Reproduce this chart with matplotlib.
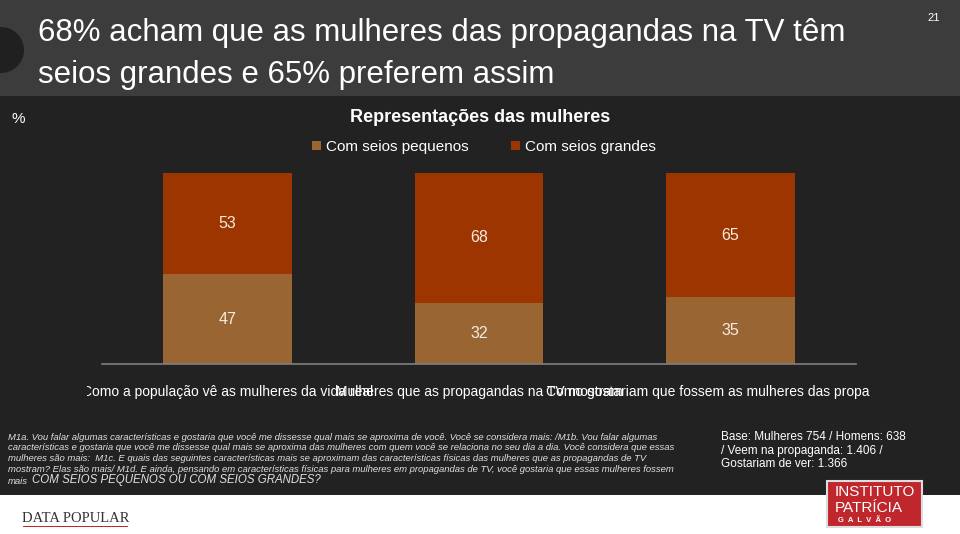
import matplotlib
matplotlib.use("Agg")
import matplotlib.pyplot as plt
from matplotlib.patches import Rectangle, Ellipse
from matplotlib.transforms import Bbox, TransformedBbox

# dados
categorias = ["Como a população vê as mulheres da vida real",
              "Mulheres que as propagandas na TV mostram",
              "Como gostariam que fossem as mulheres das propagandas"]
seios_pequenos = [47, 32, 35]
seios_grandes = [53, 68, 65]
series = ["Com seios pequenos", "Com seios grandes"]

cor_peq = "#996633"
cor_gra = "#9c3500"
fundo = "#222222"

W, H = 960, 534
fig = plt.figure(figsize=(9.6, 5.34), dpi=100)
fig.patch.set_facecolor(fundo)

def fx(x):
    return x / W

def fy(y):
    return 1 - y / H

# faixas de fundo
fig.patches.append(Rectangle((0, fy(96)), 1, 96 / H, transform=fig.transFigure,
                             facecolor="#3c3c3c", edgecolor="none", zorder=0))
fig.patches.append(Rectangle((0, 0), 1, (H - 495) / H, transform=fig.transFigure,
                             facecolor="white", edgecolor="none", zorder=0))
fig.patches.append(Ellipse((fx(1), fy(50)), 46 / W, 46 / H, transform=fig.transFigure,
                           facecolor="#202020", edgecolor="none", zorder=1))

# titulo do slide
fonte = "Liberation Sans"
fig.text(fx(38), fy(33), "68% acham que as mulheres das propagandas na TV têm",
         color="white", fontsize=22.5, family=fonte, va="center")
fig.text(fx(38), fy(75), "seios grandes e 65% preferem assim",
         color="white", fontsize=22.5, family=fonte, va="center")
fig.text(fx(940), fy(18), "21", color="white", fontsize=8, ha="right", va="center",
         family=fonte)

# titulo do grafico
fig.text(fx(480), fy(117), "Representações das mulheres", color="white", fontsize=13,
         fontweight="bold", ha="center", va="center", family=fonte)
fig.text(fx(18), fy(119), "%", color="white", fontsize=11, ha="center", va="center",
         family=fonte)

ax = fig.add_axes([fx(102), 170 / H, (856 - 102) / W, (364 - 173) / H])
ax.set_facecolor(fundo)
x = range(len(categorias))
b1 = ax.bar(x, seios_pequenos, width=0.513, color=cor_peq, label=series[0])
b2 = ax.bar(x, seios_grandes, width=0.513, bottom=seios_pequenos, color=cor_gra, label=series[1])

for i in x:
    ax.text(i, seios_pequenos[i] / 2, str(seios_pequenos[i]), ha="center", va="center",
            color="#f5ebe0", fontsize=11.5, family=fonte)
    ax.text(i, seios_pequenos[i] + seios_grandes[i] / 2, str(seios_grandes[i]), ha="center",
            va="center", color="#f5ebe0", fontsize=11.5, family=fonte)

ax.set_xlim(-0.5, 2.5)
ax.set_ylim(0, 100)
ax.set_yticks([])
ax.set_xticks(list(x))
ax.set_xticklabels(categorias, color="white", fontsize=10, family=fonte)
ax.tick_params(axis="x", length=0, pad=15)
for s in ["top", "right", "left"]:
    ax.spines[s].set_visible(False)
ax.spines["bottom"].set_color("#7f7f7f")
ax.spines["bottom"].set_linewidth(1.2)

# os rotulos sao cortados nas bordas, como no original
clip = TransformedBbox(Bbox([[fx(87), fy(400)], [fx(870), fy(375)]]), fig.transFigure)
for lbl in ax.get_xticklabels():
    lbl.set_clip_on(True)
    lbl.set_clip_box(clip)

fig.legend(handles=[b1, b2], labels=series, loc="center", bbox_to_anchor=(fx(484), fy(147)),
           ncol=2, frameon=False, labelcolor="white", handlelength=0.6,
           handleheight=0.6, handletextpad=0.3, columnspacing=2.8,
           prop={"family": fonte, "size": 11})

# nota de rodape
nota = ["M1a. Vou falar algumas características e gostaria que você me dissesse qual mais se aproxima de você. Você se considera mais: /M1b. Vou falar algumas",
        "características e gostaria que você me dissesse qual mais se aproxima das mulheres com quem você se relaciona no seu dia a dia. Você considera que essas",
        "mulheres são mais:  M1c. E quais das seguintes características mais se aproximam das características físicas das mulheres que as propagandas de TV",
        "mostram? Elas são mais/ M1d. E ainda, pensando em características físicas para mulheres em propagandas de TV, você gostaria que essas mulheres fossem"]
for k, linha in enumerate(nota):
    fig.text(fx(8), fy(437 + k * 10.8), linha, color="#e0e0e0", fontsize=6.8, style="italic",
             va="center", family=fonte)
fig.text(fx(8), fy(481), "mais", color="#e0e0e0", fontsize=6.8, style="italic", va="center",
         family=fonte)
fig.text(fx(32), fy(480), "COM SEIOS PEQUENOS OU COM SEIOS GRANDES?", color="#e0e0e0",
         fontsize=8.3, style="italic", va="center", family=fonte)

base = ["Base: Mulheres 754 / Homens: 638", "/ Veem na propaganda: 1.406 /", "Gostariam de ver: 1.366"]
for k, linha in enumerate(base):
    fig.text(fx(721), fy(437 + k * 13.7), linha, color="white", fontsize=8.5, va="center",
             family=fonte)

# logos
fig.patches.append(Rectangle((fx(827), fy(527)), 95 / W, 46 / H, transform=fig.transFigure,
                             facecolor="#c0272d", edgecolor="#dddddd", linewidth=1.5, zorder=2))
fig.text(fx(835), fy(492), "INSTITUTO", color="white", fontsize=11, va="center",
         family=fonte, zorder=3)
fig.text(fx(835), fy(508), "PATRÍCIA", color="white", fontsize=11, va="center",
         family=fonte, zorder=3)
fig.text(fx(838), fy(521), "G  A  L  V  Ã  O", color="white", fontsize=5.5, fontweight="bold",
         va="center", family=fonte, zorder=3)
fig.text(fx(22), fy(518), "DATA POPULAR", color="#333333", fontsize=10.5, va="center",
         family="Liberation Serif")
fig.patches.append(Rectangle((fx(23), fy(527)), 105 / W, 1.5 / H, transform=fig.transFigure,
                             facecolor="#c0272d", edgecolor="none", zorder=2))

fig.savefig("out.png", dpi=100, facecolor=fig.get_facecolor())
